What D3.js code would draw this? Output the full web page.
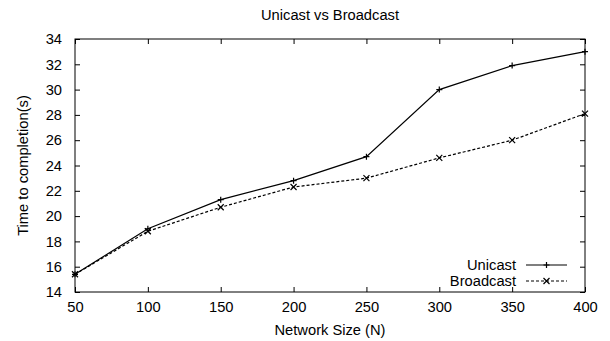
<!DOCTYPE html>
<html>
<head>
<meta charset="utf-8">
<script src="https://cdn.jsdelivr.net/npm/d3@7"></script>
<style>
  body { margin: 0; background: #fff; }
  text { font-family: "Liberation Sans", Arial, sans-serif; fill: #000; }
</style>
</head>
<body>
<div id="chart-area"></div>
<script>
/*
*    unicast vs broadcast
*/
var sizes = [50, 100, 150, 200, 250, 300, 350, 400];
var unicast = [15.4, 19.0, 21.3, 22.8, 24.7, 30.0, 31.9, 33.0];
var broadcast = [15.4, 18.8, 20.7, 22.3, 23.0, 24.6, 26.0, 28.1];
var yTicks = [14, 16, 18, 20, 22, 24, 26, 28, 30, 32, 34];
var seriesNames = ["Unicast", "Broadcast"];

var margin = {top: 39, bottom: 49, left: 75, right: 25};
var totalW = 610, totalH = 341;
var width = totalW - margin.left - margin.right;
var height = totalH - margin.top - margin.bottom;
var fontSize = "14.7px";

var svg = d3.select("#chart-area").append("svg")
    .attr("width", totalW)
    .attr("height", totalH);

var g = svg.append("g")
    .attr("transform", "translate(" + margin.left + "," + margin.top + ")");

var x = d3.scaleLinear().domain([50, 400]).range([0, width]);
var y = d3.scaleLinear().domain([14, 34]).range([height, 0]);

// axes, ticks pointing inward like gnuplot
var bottomAxis = d3.axisBottom(x).tickValues(sizes).tickSize(-5).tickPadding(10);
var leftAxis = d3.axisLeft(y).tickValues(yTicks).tickSize(-5).tickPadding(13);
var topAxis = d3.axisTop(x).tickValues(sizes).tickSize(-5).tickFormat("");
var rightAxis = d3.axisRight(y).tickValues(yTicks).tickSize(-5).tickFormat("");

var xAxisGroup = g.append("g").attr("transform", "translate(0," + height + ")").call(bottomAxis);
var yAxisGroup = g.append("g").call(leftAxis);
g.append("g").call(topAxis);
g.append("g").attr("transform", "translate(" + width + ",0)").call(rightAxis);

g.selectAll(".domain").remove();
g.selectAll(".tick line").attr("stroke", "#000");
g.selectAll(".tick text").attr("font-size", fontSize).attr("font-family", null);

g.append("rect")
    .attr("width", width)
    .attr("height", height)
    .attr("fill", "none")
    .attr("stroke", "#000")
    .attr("stroke-width", 1);

// labels
svg.append("text")
    .attr("x", margin.left + width / 2)
    .attr("y", 20)
    .attr("text-anchor", "middle")
    .attr("font-size", fontSize)
    .text("Unicast vs Broadcast");

svg.append("text")
    .attr("x", margin.left + width / 2)
    .attr("y", 335)
    .attr("text-anchor", "middle")
    .attr("font-size", fontSize)
    .text("Network Size (N)");

svg.append("text")
    .attr("transform", "rotate(-90)")
    .attr("x", -(margin.top + height / 2))
    .attr("y", 28)
    .attr("text-anchor", "middle")
    .attr("font-size", fontSize)
    .text("Time to completion(s)");

// series
var series = [
    {name: seriesNames[0], values: unicast, dash: null, marker: "plus"},
    {name: seriesNames[1], values: broadcast, dash: "3,2", marker: "cross"}
];

var line = d3.line()
    .x(function(d) { return x(d[0]); })
    .y(function(d) { return y(d[1]); });

function drawMarker(sel, type, cx, cy) {
    var s = 3;
    var path = type === "plus"
        ? "M" + (cx - s) + "," + cy + "H" + (cx + s) + "M" + cx + "," + (cy - s) + "V" + (cy + s)
        : "M" + (cx - s) + "," + (cy - s) + "L" + (cx + s) + "," + (cy + s) +
          "M" + (cx - s) + "," + (cy + s) + "L" + (cx + s) + "," + (cy - s);
    sel.append("path").attr("d", path).attr("stroke", "#000").attr("stroke-width", 1.2).attr("fill", "none");
}

series.forEach(function(s) {
    var pts = sizes.map(function(n, i) { return [n, s.values[i]]; });
    g.append("path")
        .datum(pts)
        .attr("d", line)
        .attr("fill", "none")
        .attr("stroke", "#000")
        .attr("stroke-width", 1.2)
        .attr("stroke-dasharray", s.dash);
    var mg = g.append("g");
    pts.forEach(function(p) { drawMarker(mg, s.marker, x(p[0]), y(p[1])); });
});

// legend
var legend = svg.append("g").attr("transform", "translate(516,265)");
series.forEach(function(s, i) {
    var row = legend.append("g").attr("transform", "translate(0," + (i * 16) + ")");
    row.append("text")
        .attr("x", 0)
        .attr("y", 0)
        .attr("dy", "0.32em")
        .attr("text-anchor", "end")
        .attr("font-size", fontSize)
        .text(s.name);
    row.append("line")
        .attr("x1", 10).attr("x2", 51)
        .attr("y1", 0).attr("y2", 0)
        .attr("stroke", "#000")
        .attr("stroke-width", 1.2)
        .attr("stroke-dasharray", s.dash);
    drawMarker(row, s.marker, 30.5, 0);
});
</script>
</body>
</html>
